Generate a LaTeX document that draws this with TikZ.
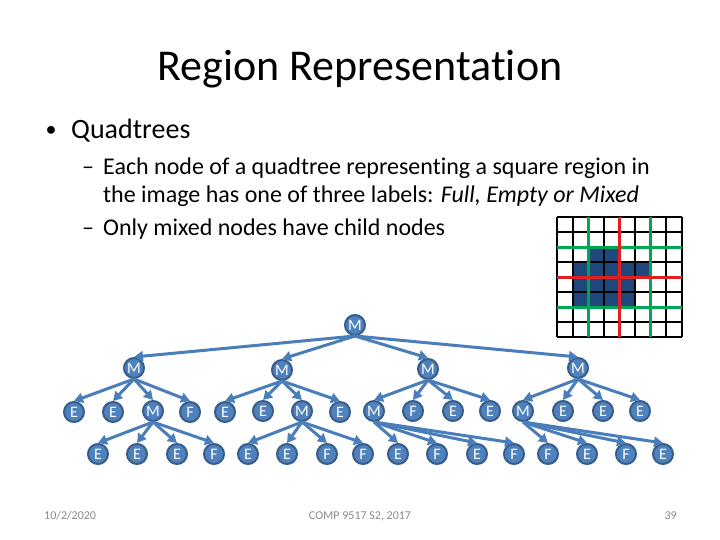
\documentclass[tikz,border=0pt]{standalone}
\usepackage{fontspec}
\setmainfont{Carlito}[Ligatures={NoCommon}]
\usetikzlibrary{arrows.meta}
\definecolor{qfill}{RGB}{79,129,189}
\definecolor{qborder}{RGB}{56,93,138}
\definecolor{qarrow}{RGB}{74,126,187}
\definecolor{cellblue}{RGB}{31,73,125}
\definecolor{qgreen}{RGB}{0,166,81}
\definecolor{qred}{RGB}{224,32,32}
\definecolor{footgray}{RGB}{137,137,137}
\tikzset{
  qn/.style={circle, fill=qfill, draw=qborder, line width=2pt, minimum size=20pt, inner sep=0pt, text=white, font=\fontsize{16}{16}\selectfont},
  qedge/.style={draw=qarrow, line width=3pt, -{Triangle[length=9pt,width=10pt]}},
  txt/.style={anchor=base west, inner sep=0pt},
  foot/.style={anchor=base west, inner sep=0pt, text=footgray, font=\fontsize{12}{12}\selectfont}
}
\begin{document}
\begin{tikzpicture}[x=1pt,y=-1pt]
\useasboundingbox (0,0) rectangle (720,540);
% title
\node[anchor=base, inner sep=0pt, font=\fontsize{44}{44}\selectfont] (title) at (360,81) {Region Representation};
% bullets
\node[anchor=center, inner sep=0pt, font=\fontsize{22}{22}\selectfont] (b0) at (51,131) {•};
\node[txt, font=\fontsize{28}{28}\selectfont] (t0) at (71,139) {Quadtrees};
\node[txt, font=\fontsize{24}{24}\selectfont] (d1) at (82,175) {–};
\node[txt, font=\fontsize{24}{24}\selectfont] (t1) at (103,175) {Each node of a quadtree representing a square region in};
\node[txt, font=\fontsize{24}{24}\selectfont] (t2) at (103,203) {the image has one of three labels: \textit{Full, Empty or Mixed}};
\node[txt, font=\fontsize{24}{24}\selectfont] (d3) at (82,236) {–};
\node[txt, font=\fontsize{24}{24}\selectfont] (t3) at (103,236) {Only mixed nodes have child nodes};
% footer
\node[foot] (f1) at (44,519) {10/2/2020};
\node[foot, anchor=base] (f2) at (360,519) {COMP 9517 S2, 2017};
\node[foot, anchor=base east] (f3) at (677,519) {39};
% grid image
\foreach \c/\r in {2/2,3/2, 1/3,2/3,3/3,4/3,5/3, 1/4,2/4,3/4,4/4, 1/5,2/5,3/5,4/5}{
  \fill[cellblue] (557+\c*15.625,217+\r*15) rectangle ++(15.625,15);
}
\foreach \i in {0,...,8}{
  \draw[line width=2pt] (557+\i*15.625,217) -- (557+\i*15.625,337);
  \draw[line width=2pt] (557,217+\i*15) -- (682,217+\i*15);
}
\draw[qgreen, line width=3pt] (588.25,217) -- (588.25,337);
\draw[qgreen, line width=3pt] (650.75,217) -- (650.75,337);
\draw[qgreen, line width=3pt] (557,247) -- (682,247);
\draw[qgreen, line width=3pt] (557,307) -- (682,307);
\draw[qred, line width=3pt] (619.5,217) -- (619.5,337);
\draw[qred, line width=3pt] (557,277) -- (682,277);
% tree
\node[qn] (r) at (355,325) {M};
\node[qn] (a) at (134,368) {M};
\node[qn] (b) at (282,370) {M};
\node[qn] (c) at (428,369) {M};
\node[qn] (d) at (578,368) {M};
\node[qn] (a1) at (74,412) {E};
\node[qn] (a2) at (113,412) {E};
\node[qn] (a3) at (153,411) {M};
\node[qn] (a4) at (190,412) {F};
\node[qn] (b1) at (225,412) {E};
\node[qn] (b2) at (263,411) {E};
\node[qn] (b3) at (302,411) {M};
\node[qn] (b4) at (340,412) {E};
\node[qn] (c1) at (374,411) {M};
\node[qn] (c2) at (413,411) {F};
\node[qn] (c3) at (453,411) {E};
\node[qn] (c4) at (490,411) {E};
\node[qn] (d1) at (523,411) {M};
\node[qn] (d2) at (563,411) {E};
\node[qn] (d3) at (603,411) {E};
\node[qn] (d4) at (640,411) {E};
\node[qn] (a31) at (98,454) {E};
\node[qn] (a32) at (137,454) {E};
\node[qn] (a33) at (177,454) {E};
\node[qn] (a34) at (214,454) {F};
\node[qn] (b31) at (248,454) {E};
\node[qn] (b32) at (287,454) {E};
\node[qn] (b33) at (327,454) {F};
\node[qn] (b34) at (363,454) {F};
\node[qn] (c11) at (398,454) {E};
\node[qn] (c12) at (437,454) {F};
\node[qn] (c13) at (477,454) {E};
\node[qn] (c14) at (514,454) {F};
\node[qn] (d11) at (548,454) {F};
\node[qn] (d12) at (587,454) {E};
\node[qn] (d13) at (626,454) {F};
\node[qn] (d14) at (663,454) {E};
\foreach \p/\k in {r/a,r/b,r/c,r/d,
  a/a1,a/a2,a/a3,a/a4,b/b1,b/b2,b/b3,b/b4,c/c1,c/c2,c/c3,c/c4,d/d1,d/d2,d/d3,d/d4,
  a3/a31,a3/a32,a3/a33,a3/a34,b3/b31,b3/b32,b3/b33,b3/b34,c1/c11,c1/c12,c1/c13,c1/c14,d1/d11,d1/d12,d1/d13,d1/d14}{
  \draw[qedge] (\p.south) -- (\k.north);
}
\end{tikzpicture}
\end{document}
